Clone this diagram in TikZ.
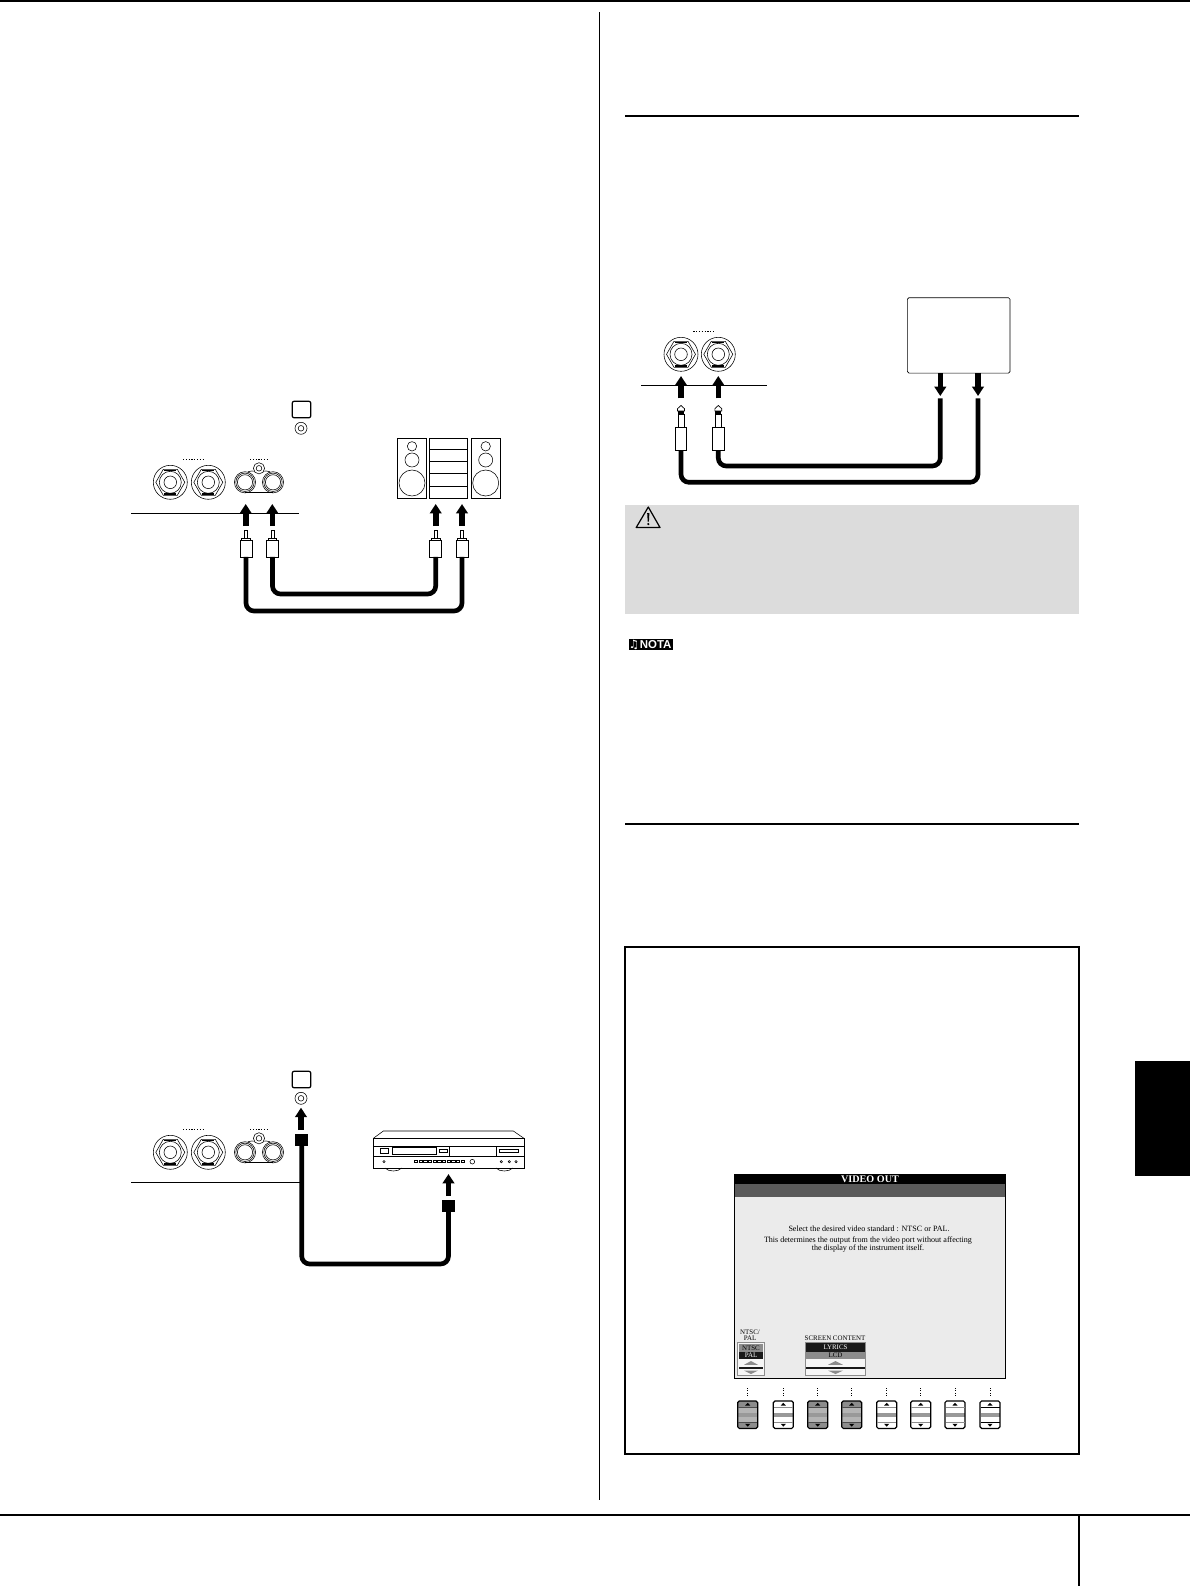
\documentclass[tikz,border=0pt]{standalone}
\usepackage{fontspec}
\setmainfont{Liberation Serif}
\newfontfamily\symfont{DejaVu Sans}
\newfontfamily\nota{Liberation Sans}
\usetikzlibrary{arrows.meta,positioning}
\definecolor{warn}{HTML}{DCDCDC}
\definecolor{screen}{HTML}{EBEBEB}
\definecolor{bandg}{HTML}{5A5A5A}
\definecolor{midg}{HTML}{B4B4B4}
\definecolor{edgeg}{HTML}{8C8C8C}
\definecolor{cellw}{HTML}{F6F6F6}
\tikzset{
  thin line/.style={line width=0.5pt},
  fine line/.style={line width=0.42pt},
  rule/.style={line width=1.5pt},
  blockarrow/.style={line width=4.2pt,-{Triangle[length=7pt,width=8.6pt]},shorten <=0pt},
  cable/.style={line width=3.5pt,rounded corners=6pt,line cap=butt},
  rcabody/.style={draw,thin line,fill=white,minimum width=9pt,minimum height=12.5pt,inner sep=0pt,outer sep=0pt},
  jackbody/.style={draw,thin line,fill=white,minimum width=8.5pt,minimum height=17.5pt,inner sep=0pt,outer sep=0pt},
  square plug/.style={fill=black,minimum width=9.4pt,minimum height=9.2pt,inner sep=0pt,outer sep=0pt},
  topbox/.style={draw,line width=0.9pt,rounded corners=1.6pt,minimum width=14pt,minimum height=12.5pt,inner sep=0pt,outer sep=0pt},
  dots/.style={line width=0.7pt,dash pattern=on 0.9pt off 1.2pt},
  scrtext/.style={inner sep=0pt,align=center,font=\fontsize{6.05}{6.3}\selectfont},
  smalltext/.style={inner sep=0pt,align=center,font=\fontsize{5.2}{4.9}\selectfont},
}
% big phone socket
\newcommand\bigjack[2]{%
  \begin{scope}[shift={(#1,#2)},fine line]
    \draw (0,0) circle (17);
    \draw (0,0) circle (11);
    \draw (0,0) circle (6.3);
    \draw (-7,-13) -- (7,-13) -- (14.5,0) -- (7,13) -- (-7,13) -- (-14.5,0) -- cycle;
    \draw[line width=0.9pt] (-6,-11.6) -- (6,-11.6) (-6,11.6) -- (6,11.6);
  \end{scope}}
% RCA pair
\newcommand\rcapair[2]{%
  \begin{scope}[shift={(#1,#2)},fine line]
    \foreach \cx in {0,28}{
      \draw (\cx,0) circle (10.6);
      \draw (\cx,0) circle (9.2);
      \draw (\cx,0) circle (7.6);
    }
    \draw (3,-10.6) .. controls (6,-11) and (8,-12) .. (10,-11);
    \draw (25,-10.6) .. controls (22,-11) and (20,-12) .. (18,-11);
    \draw[line width=0.8pt] (0,10.4) -- (28,10.4);
    \draw[fill=white] (14,-14) circle (5.6);
    \draw (14,-14) circle (2.8);
  \end{scope}}
\newcommand\smalljack[2]{%
  \draw[fine line] (#1,#2) circle (6);
  \draw[fine line] (#1,#2) circle (2.8);}
% RCA plug tip above named body
\newcommand\rcatip[1]{%
  \draw[thin line,fill=white] ([xshift=-1.1pt,yshift=1pt]#1.north) rectangle ([xshift=1.1pt,yshift=7.4pt]#1.north);
  \draw[thin line,fill=white] ([xshift=-3.2pt]#1.north) rectangle ([xshift=3.2pt,yshift=1.6pt]#1.north);}
% phone plug above named body
\newcommand\phonetip[1]{%
  \draw[thin line,fill=white] ([xshift=-2.2pt]#1.north) rectangle ([xshift=2.2pt,yshift=9.8pt]#1.north);
  \fill ([xshift=-2.2pt,yshift=9.8pt]#1.north) rectangle ([xshift=2.2pt,yshift=12.3pt]#1.north);
  \draw[thin line,fill=white] ([xshift=-2.6pt,yshift=12.3pt]#1.north) -- ([xshift=-2.6pt,yshift=14pt]#1.north) -- ([yshift=16.4pt]#1.north) -- ([xshift=2.6pt,yshift=14pt]#1.north) -- ([xshift=2.6pt,yshift=12.3pt]#1.north) -- cycle;}
% panel button: x, fill, end-zone fill, inner rule colour
\newcommand\panelbtn[4]{%
  \begin{scope}[shift={(#1,1401)}]
    \draw[line width=0.4pt,dash pattern=on 0.8pt off 1pt] (0,-13) -- (0,-4.5);
    \fill[#2] (-9.5,0) rectangle (9.5,27.4);
    \fill[#3] (-9.5,0) rectangle (9.5,6.4);
    \fill[#3] (-9.5,21.2) rectangle (9.5,27.4);
    \fill[midg!85!black] (-9.5,11.8) rectangle (9.5,15.6);
    \draw[line width=0.9pt,rounded corners=1.2pt] (-10,0) rectangle (10,27.4);
    \draw[#4,line width=0.5pt] (-9.5,6.4) -- (9.5,6.4) (-9.5,21.2) -- (9.5,21.2);
    \fill (-2.6,4.6) -- (2.6,4.6) -- (0,1.8) -- cycle;
    \fill (-2.6,22.8) -- (2.6,22.8) -- (0,25.6) -- cycle;
  \end{scope}}
\begin{document}
\begin{tikzpicture}[x=0.75pt,y=-0.75pt]
\useasboundingbox (0,0) rectangle (1190,1586);
% page furniture
\draw[rule] (0,0.5) -- (1190,0.5);
\draw[line width=0.6pt] (599,12) -- (599,1500);
\draw[rule] (0,1514.5) -- (1190,1514.5);
\draw[rule] (1079,1514.5) -- (1079,1586);
\draw[rule] (625,115.5) -- (1079,115.5);
\draw[rule] (625,824) -- (1079,824);
\fill (1135,1061) rectangle (1190,1176);

%% ---------- diagram 1 : amplifier ----------
\node[topbox] (boxA) at (301.5,409.5) {};
\smalljack{301}{428.3}
\draw[dots] (183,459.3) -- (204,459.3) (250,459.3) -- (268,459.3);
\bigjack{170.3}{482.3}
\bigjack{208.3}{482.3}
\rcapair{245}{482.3}
\draw[line width=0.7pt] (131,513.3) -- (299,513.3);
% stereo
\draw[thin line] (397,438.3) rectangle (426.7,498.7);
\draw[thin line] (429.3,438.3) rectangle (467.7,498.7);
\draw[thin line] (471.3,438.3) rectangle (500.7,498.7);
\draw[thin line] (429.3,449.3) -- (467.7,449.3) (429.3,461.7) -- (467.7,461.7) (429.3,473.7) -- (467.7,473.7) (429.3,486) -- (467.7,486);
\foreach \cx in {412,485.7}{
  \draw[fine line] (\cx,446.3) circle (4.7);
  \draw[fine line] (\cx,460) circle (7);
  \draw[fine line] (\cx,483) circle (13);
}
% plugs
\node[rcabody] (p1) at (246,548.5) {};
\node[rcabody] (p2) at (272.5,548.5) {};
\node[rcabody] (p3) at (435.7,548.5) {};
\node[rcabody] (p4) at (462,548.5) {};
\rcatip{p1}\rcatip{p2}\rcatip{p3}\rcatip{p4}
\coordinate (c1) at (246,611);
\coordinate (c2) at (272.5,594);
\draw[cable] (p1.south) -- (c1) -- (c1 -| p4) -- (p4.south);
\draw[cable] (p2.south) -- (c2) -- (c2 -| p3) -- (p3.south);
\foreach \n/\ax in {a1/245.7,a2/272.3,a3/435.7,a4/462}{
  \coordinate (\n b) at (\ax,526);
  \coordinate (\n t) at (\ax,504);
  \draw[blockarrow] (\n b) -- (\n t);
}

%% ---------- diagram 2 : recorder ----------
\node[topbox] (boxB) at (301.5,1079.5) {};
\smalljack{301}{1098.3}
\draw[dots] (183,1129.3) -- (204,1129.3) (250,1129.3) -- (268,1129.3);
\bigjack{170.3}{1152.3}
\bigjack{208.3}{1152.3}
\rcapair{245}{1152.3}
\draw[line width=0.7pt] (131,1182.3) -- (300,1182.3);
\node[square plug] (s1) at (301.7,1139.7) {};
\node[square plug] (s2) at (448.5,1205.8) {};
\coordinate (c3) at (301.7,1264);
\draw[cable] (s1.south) -- (c3) -- (c3 -| s2) -- (s2.south);
\coordinate (a5b) at (301,1130);
\coordinate (a5t) at (301,1107.7);
\coordinate (a6b) at (448.5,1196);
\coordinate (a6t) at (448.5,1174);
\draw[blockarrow] (a5b) -- (a5t);
\draw[blockarrow] (a6b) -- (a6t);
% recorder drawn in 3x zoom units
\begin{scope}[shift={(370,1120)},x=0.25pt,y=-0.25pt,fine line]
  \draw (10,55) -- (40,33) -- (430,33) -- (462,55);
  \draw (10,55) rectangle (462,144);
  \draw (10,78) -- (462,78) (10,110) -- (462,110);
  \draw (30,85) rectangle (55,100);
  \draw (67,83) rectangle (200,103);
  \draw (208,87) rectangle (232,98);
  \draw (238,78) -- (238,110);
  \draw (378,78) -- (378,110);
  \draw[line width=0.7pt] (388,88) rectangle (444,98);
  \draw (42,125) circle (3.5);
  \foreach \cx in {394,418,438}{\draw (\cx,125) circle (3.5);}
  \draw (307,125) circle (7);
  \foreach \cx in {133,147,161,175,189,203,217,231,245,259,273}{
    \draw (\cx,122) rectangle ++(10,6);}
  \draw (45,144) .. controls (55,156) and (85,156) .. (95,144);
  \draw (378,144) .. controls (388,156) and (418,156) .. (428,144);
\end{scope}

%% ---------- diagram 3 : external unit ----------
\node[draw,thin line,rounded corners=1.2pt,minimum width=77pt,minimum height=56.6pt,inner sep=0pt,outer sep=0pt] (ext) at (958.7,335.4) {};
\draw[dots] (693.3,331.7) -- (714.3,331.7);
\bigjack{681}{354.3}
\bigjack{718.3}{354.3}
\draw[line width=0.7pt] (641,385.3) -- (766.7,385.3);
\node[jackbody] (j1) at (681,439) {};
\node[jackbody] (j2) at (718.3,439) {};
\phonetip{j1}\phonetip{j2}
\coordinate (c4) at (681,482.3);
\coordinate (c5) at (718.3,466);
\coordinate (e1) at (978,398.3);
\coordinate (e2) at (940.3,398.3);
\draw[cable] (j1.south) -- (c4) -- (c4 -| e1) -- (e1);
\draw[cable] (j2.south) -- (c5) -- (c5 -| e2) -- (e2);
\coordinate (a7b) at (681,398.3);
\coordinate (a7t) at (681,376);
\coordinate (a8b) at (718.3,398.3);
\coordinate (a8t) at (718.3,376);
\draw[blockarrow] (a7b) -- (a7t);
\draw[blockarrow] (a8b) -- (a8t);
\coordinate (a9b) at (940.3,373);
\coordinate (a9t) at (940.3,396);
\coordinate (a10b) at (978,373);
\coordinate (a10t) at (978,396);
\draw[blockarrow] (a9b) -- (a9t);
\draw[blockarrow] (a10b) -- (a10t);

%% ---------- warning ----------
\fill[warn] (625,505) rectangle (1079,614);
\draw[line width=0.9pt,line join=round] (648.3,507) -- (660,527.5) -- (636.2,527.5) -- cycle;
\fill (647.2,513) -- (649.4,513) -- (648.9,521.5) -- (647.7,521.5) -- cycle;
\fill (648.3,524) circle (1.2);
\node[fill=black,text=white,inner sep=0pt,minimum width=33pt,minimum height=8.3pt,outer sep=0pt] (nota) at (650.8,644.5) {\fontsize{8.6}{8}\selectfont\hspace{-1pt}{\symfont ♫}\hspace{0.6pt}{\nota\bfseries NOTA}};

%% ---------- video out frame ----------
\draw[rule] (625,947) rectangle (1079,1454);
\fill[screen] (734.3,1174.3) rectangle (1005.7,1378.3);
\fill (734.3,1174.3) rectangle (1005.7,1184);
\fill[bandg] (734.3,1184) rectangle (1005.7,1196.7);
\draw[line width=1pt] (734.3,1174.3) rectangle (1005.7,1378.3);
\node[scrtext,text=white,font=\fontsize{7.6}{8}\selectfont\bfseries] (title) at (870,1179) {VIDEO OUT};
\node[scrtext] (sel) at (869,1229) {Select the desired video standard : NTSC or PAL.};
\node[scrtext] (det) at (868,1244.7) {This determines the output from the video port without affecting\\the display of the instrument itself.};
\node[smalltext] (ntsc) at (750,1335) {NTSC/\\PAL};
\node[smalltext] (scr) at (835,1338.3) {SCREEN CONTENT};
% NTSC selector
\fill[cellw] (737.7,1342.7) rectangle (764,1375.7);
\fill[edgeg] (738.5,1344) rectangle (763.2,1351.7);
\fill[black!90] (738.5,1351.7) rectangle (763.2,1359.3);
\fill[black!90] (738.5,1366.5) rectangle (763.2,1369.3);
\fill[edgeg] (744,1364.8) -- (758,1364.8) -- (751,1361) -- cycle;
\fill[edgeg] (744,1370.6) -- (758,1370.6) -- (751,1374) -- cycle;
\draw[edgeg,line width=0.6pt] (737.7,1342.7) rectangle (764,1375.7);
\node[smalltext,text=black] (l1) at (751,1347.8) {NTSC};
\node[smalltext,text=white] (l2) at (751,1355.5) {PAL};
% screen content selector
\fill[cellw] (805.3,1342.7) rectangle (865.7,1375.7);
\fill[black!90] (805.3,1342.7) rectangle (865.7,1351.7);
\fill[edgeg] (805.3,1352.3) rectangle (865.7,1359.3);
\fill[black!90] (805.3,1366.5) rectangle (865.7,1369.3);
\fill[edgeg] (828,1364.8) -- (843,1364.8) -- (835.5,1361) -- cycle;
\fill[edgeg] (828,1370.6) -- (843,1370.6) -- (835.5,1374) -- cycle;
\draw[edgeg,line width=0.6pt] (805.3,1342.7) rectangle (865.7,1375.7);
\node[smalltext,text=white] (l3) at (835.5,1347.3) {LYRICS};
\node[smalltext,text=black] (l4) at (835.5,1355.5) {LCD};
% buttons
\panelbtn{747.7}{midg}{edgeg}{black!70}
\panelbtn{783.3}{white}{white}{edgeg}
\panelbtn{817.7}{midg}{edgeg}{black!70}
\panelbtn{851.7}{midg}{edgeg}{black!70}
\panelbtn{886.7}{white}{white}{edgeg}
\panelbtn{920.7}{white}{white}{edgeg}
\panelbtn{955}{white}{white}{edgeg}
\panelbtn{990}{white}{white}{black}
\end{tikzpicture}
\end{document}
